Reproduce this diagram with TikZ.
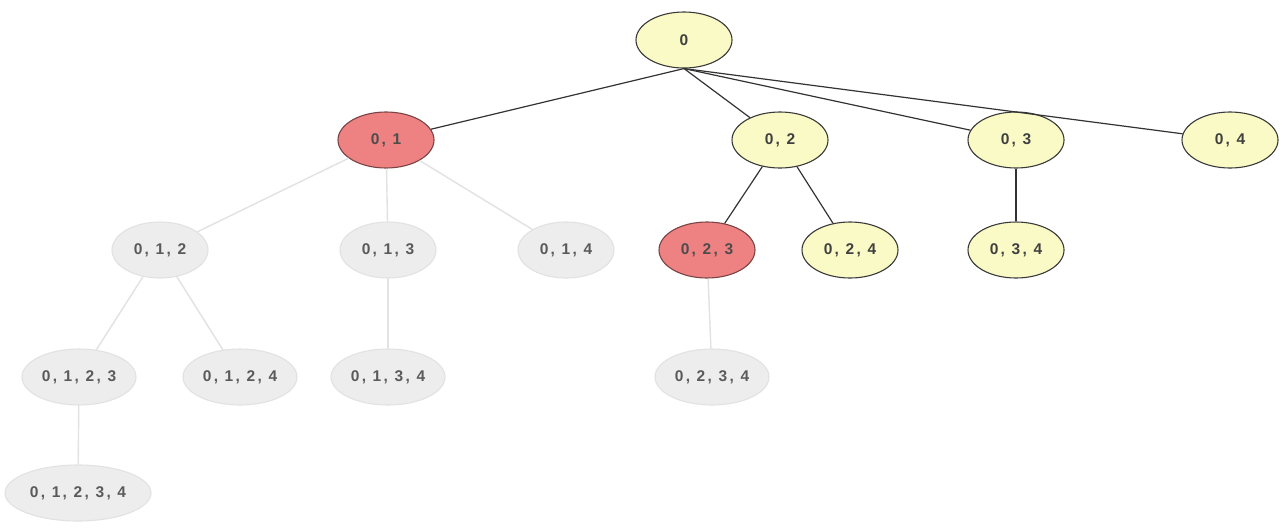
\documentclass[tikz,border=0pt]{standalone}
\usepackage{fontspec}
\setmainfont{Liberation Sans}
\newfontfamily\nodefont[LetterSpace=15]{Liberation Sans}
\usetikzlibrary{shapes.geometric}
\definecolor{yfill}{HTML}{FAFAC6}
\definecolor{yline}{HTML}{3A3A3A}
\definecolor{rfill}{HTML}{EE8282}
\definecolor{rline}{HTML}{7A4444}
\definecolor{gfill}{HTML}{EDEDED}
\definecolor{gline}{HTML}{E2E2E2}
\definecolor{gtext}{HTML}{5A5A5A}
\tikzset{
  base/.style={ellipse, inner sep=0pt, minimum height=56pt, minimum width=96pt, line width=1.1pt, font=\nodefont\bfseries\fontsize{15.5}{17}\selectfont},
  ynode/.style={base, fill=yfill, draw=yline, text=black!75},
  rnode/.style={base, fill=rfill, draw=rline, text=black!70},
  gnode/.style={base, fill=gfill, draw=gline, text=gtext},
  blk/.style={draw=black!80, line width=1.2pt},
  gry/.style={draw=gline, line width=1.4pt},
}
\begin{document}
\begin{tikzpicture}[x=1pt,y=1pt]
\useasboundingbox (0,0) rectangle (1282,-528);
\fill[white] (0,0) rectangle (1282,-528);
% level 0
\node[ynode] (n0) at (684,-40) {0};
% level 1
\node[rnode] (n01) at (386,-140) {0, 1};
\node[ynode] (n02) at (780,-140) {0, 2};
\node[ynode] (n03) at (1016,-140) {0, 3};
\node[ynode] (n04) at (1230,-140) {0, 4};
% level 2
\node[gnode] (n012) at (160,-250) {0, 1, 2};
\node[gnode] (n013) at (388,-250) {0, 1, 3};
\node[gnode] (n014) at (566,-250) {0, 1, 4};
\node[rnode] (n023) at (707,-250) {0, 2, 3};
\node[ynode] (n024) at (850,-250) {0, 2, 4};
\node[ynode] (n034) at (1016,-250) {0, 3, 4};
% level 3
\node[gnode, minimum width=114pt] (n0123) at (79,-377) {0, 1, 2, 3};
\node[gnode, minimum width=114pt] (n0124) at (240,-377) {0, 1, 2, 4};
\node[gnode, minimum width=114pt] (n0134) at (388,-377) {0, 1, 3, 4};
\node[gnode, minimum width=114pt] (n0234) at (712,-377) {0, 2, 3, 4};
% level 4
\node[gnode, minimum width=146pt] (n01234) at (78,-493) {0, 1, 2, 3, 4};
% gray edges
\draw[gry] (n01) -- (n012);
\draw[gry] (n01) -- (n013);
\draw[gry] (n01) -- (n014);
\draw[gry] (n012) -- (n0123);
\draw[gry] (n012) -- (n0124);
\draw[gry] (n013) -- (n0134);
\draw[gry] (n0123) -- (n01234);
\draw[gry] (n023) -- (n0234);
% black edges
\draw[blk] (n0.south) -- (n01);
\draw[blk] (n0.south) -- (n02);
\draw[blk] (n0.south) -- (n03);
\draw[blk] (n0.south) -- (n04);
\draw[blk] (n02) -- (n023);
\draw[blk] (n02) -- (n024);
\draw[blk] (n03) -- (n034);
\end{tikzpicture}
\end{document}
